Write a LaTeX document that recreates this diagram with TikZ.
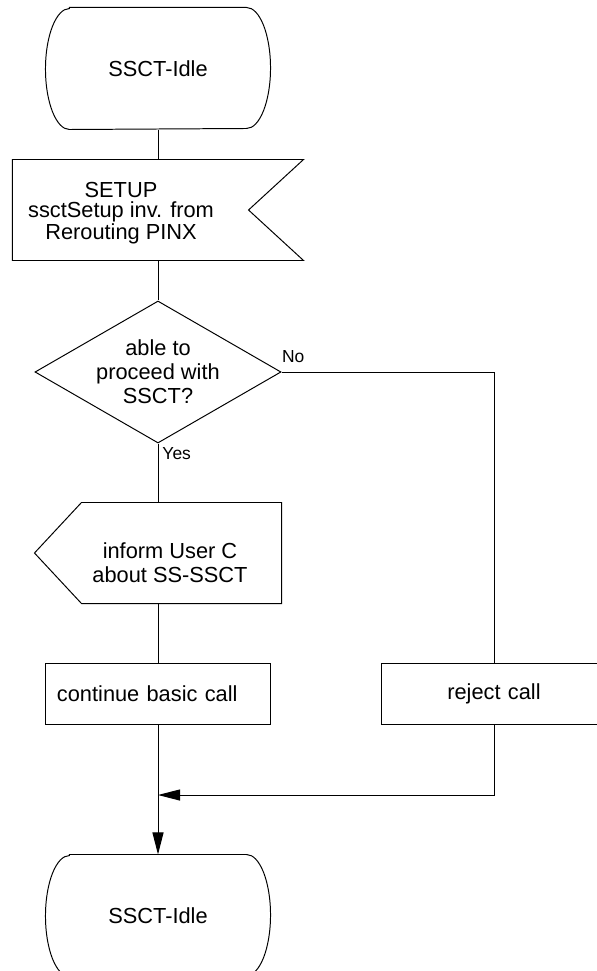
\documentclass[tikz,border=0pt]{standalone}
\usepackage{fontspec}
\setmainfont{Liberation Sans}
\usetikzlibrary{shapes.geometric,arrows.meta,calc}

\tikzset{
  every node/.style={font=\fontsize{15.5pt}{17pt}\selectfont, inner sep=0pt, align=center},
  statenode/.style={minimum width=5.6cm, minimum height=3.025cm},
  sigframe/.style={minimum width=7.25cm, minimum height=2.5cm},
  outframe/.style={minimum width=6.15cm, minimum height=2.5cm},
  decision/.style={draw, diamond, aspect=1.73, minimum width=6.15cm, minimum height=3.55cm},
  taskbox/.style={draw, minimum width=5.6cm, minimum height=1.525cm, text width=5.05cm},
  branch/.style={font=\fontsize{12.4pt}{14pt}\selectfont},
  arrowed/.style={-{Triangle[length=0.55cm, width=0.275cm]}}
}

% SDL state symbol round a node
\newcommand{\sdlstate}[1]{%
  \draw ($(#1.north west)+(24,0)$) -- ($(#1.north east)+(-24,0)$)
    arc[start angle=-90, end angle=90, x radius=24, y radius=60.5]
    -- ($(#1.south west)+(24,0)$)
    arc[start angle=90, end angle=270, x radius=24, y radius=60.5] -- cycle;}

\begin{document}
\begin{tikzpicture}[x=0.025cm, y=-0.025cm, line width=0.7pt]
  \useasboundingbox (0,0) rectangle (597,971);
  \clip (0,0) rectangle (597,971);

  % symbols
  \node[statenode] (idle1) at (158,68.5) {SSCT-Idle};
  \node[sigframe] (setup) at (158,210) {};
  \node[font=\fontsize{15.5pt}{14.2pt}\selectfont] (setuptext) at (121,213) {SETUP\\ssctSetup inv. from\\Rerouting PINX};
  \node[decision] (able) at (158,372) {able to\\proceed with\\SSCT?};
  \node[outframe] (inform) at (158,553) {};
  \node (informtext) at (170,563) {inform User C\\about SS-SSCT};
  \node[taskbox, align=left] (basic) at (158,693.5) {continue basic call};
  \node[taskbox] (reject) at (494,693.5) {reject call};
  \node[statenode] (idle2) at (158,915.5) {SSCT-Idle};
  \coordinate (merge) at (158,795);

  \sdlstate{idle1}
  \sdlstate{idle2}
  \draw (setup.north west) -- (setup.north east) -- ($(setup.east)+(-55,0)$)
    -- (setup.south east) -- (setup.south west) -- cycle;
  \draw ($(inform.north west)+(47,0)$) -- (inform.north east) -- (inform.south east)
    -- ($(inform.south west)+(47,0)$) -- (inform.west) -- cycle;

  % flow lines
  \draw (idle1) -- (setup);
  \draw (setup) -- (able);
  \draw (able) -- (inform);
  \draw (inform) -- (basic);
  \draw (able.east) -| (reject.north);
  \draw[arrowed] (reject.south) |- (merge);
  \draw[arrowed] (basic) -- (idle2);

  \node[branch, anchor=south west] (no) at ($(able.east)+(0,-9)$) {No};
  \node[branch, anchor=north west] (yes) at ($(able.south)+(4,3)$) {Yes};
\end{tikzpicture}
\end{document}
